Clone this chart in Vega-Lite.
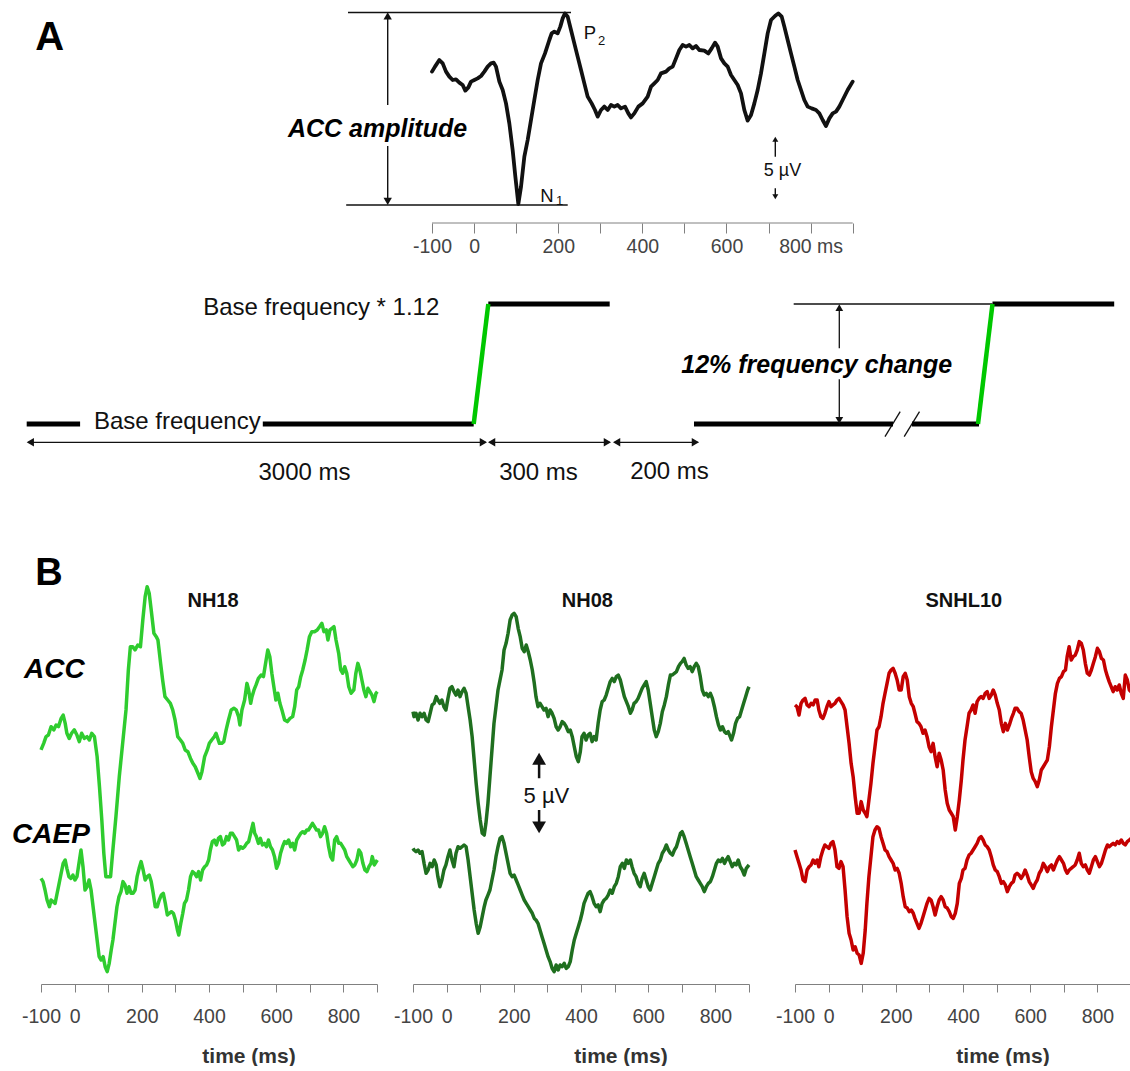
{
"$schema": "https://vega.github.io/schema/vega-lite/v6.json",
"background": "white",
"padding": 0,
"config": {"view": {"stroke": null}, "font": "Liberation Sans"},
"datasets": {
"waveA": [{"t":-100,"v":2.27},{"t":-92.9,"v":2.67},{"t":-82.6,"v":3.2},{"t":-74.6,"v":2.93},{"t":-66.7,"v":2.27},{"t":-58.8,"v":1.87},{"t":-50.9,"v":1.6},{"t":-43,"v":1.65},{"t":-35,"v":1.39},{"t":-27.1,"v":1.2},{"t":-20.8,"v":0.75},{"t":-13.6,"v":1.01},{"t":-7.3,"v":1.47},{"t":0.6,"v":1.6},{"t":8.5,"v":1.73},{"t":16.5,"v":1.92},{"t":24.4,"v":2.27},{"t":32.3,"v":2.67},{"t":40.2,"v":2.93},{"t":46.6,"v":2.99},{"t":52.1,"v":2.67},{"t":60.1,"v":1.47},{"t":68,"v":0.8},{"t":75.9,"v":-0.27},{"t":83.8,"v":-1.87},{"t":91.7,"v":-4},{"t":98.1,"v":-6.13},{"t":105.2,"v":-8.32},{"t":111.6,"v":-6.93},{"t":119.5,"v":-4.53},{"t":127.4,"v":-3.2},{"t":135.3,"v":-1.6},{"t":143.2,"v":0},{"t":151.2,"v":1.6},{"t":159.1,"v":2.93},{"t":168.6,"v":3.73},{"t":178.9,"v":4.8},{"t":184.4,"v":5.33},{"t":190.8,"v":5.47},{"t":198.7,"v":5.33},{"t":205,"v":5.87},{"t":210.6,"v":6.53},{"t":216.1,"v":6.93},{"t":222.5,"v":6.67},{"t":230.4,"v":5.6},{"t":238.3,"v":4.53},{"t":246.2,"v":3.47},{"t":254.2,"v":2.4},{"t":262.1,"v":1.33},{"t":270,"v":0.27},{"t":279.5,"v":-0.27},{"t":287.4,"v":-0.8},{"t":293.8,"v":-1.33},{"t":301.7,"v":-0.8},{"t":309.6,"v":-0.53},{"t":317.6,"v":-0.8},{"t":325.5,"v":-0.4},{"t":333.4,"v":-0.53},{"t":341.3,"v":-0.4},{"t":349.2,"v":-0.67},{"t":358.8,"v":-0.53},{"t":366.7,"v":-1.07},{"t":373,"v":-1.39},{"t":380.9,"v":-1.07},{"t":390.5,"v":-0.53},{"t":400.8,"v":-0.27},{"t":412.6,"v":0.27},{"t":420.6,"v":1.07},{"t":428.5,"v":1.33},{"t":436.4,"v":1.6},{"t":444.3,"v":2.13},{"t":456.2,"v":2.27},{"t":464.1,"v":2.53},{"t":472.1,"v":2.67},{"t":480,"v":3.33},{"t":487.9,"v":4},{"t":495.8,"v":4.4},{"t":503.8,"v":4.27},{"t":511.7,"v":4.4},{"t":519.6,"v":4.13},{"t":527.5,"v":4.32},{"t":535.4,"v":4},{"t":547.3,"v":3.95},{"t":556.8,"v":3.73},{"t":564.8,"v":4.13},{"t":572.7,"v":4.59},{"t":579,"v":4.27},{"t":587,"v":3.33},{"t":594.9,"v":2.93},{"t":602.8,"v":2.67},{"t":610.7,"v":2},{"t":618.6,"v":1.6},{"t":626.6,"v":1.2},{"t":634.5,"v":0.53},{"t":642.4,"v":-0.8},{"t":650.3,"v":-1.65},{"t":658.3,"v":-1.2},{"t":666.2,"v":-0.27},{"t":674.1,"v":0.8},{"t":682,"v":2.13},{"t":690,"v":3.73},{"t":697.9,"v":5.33},{"t":705.8,"v":6.4},{"t":715.3,"v":6.72},{"t":723.2,"v":6.93},{"t":731.2,"v":6.67},{"t":737.5,"v":5.87},{"t":745.4,"v":4.8},{"t":753.3,"v":3.73},{"t":761.3,"v":2.67},{"t":769.2,"v":1.6},{"t":777.1,"v":0.8},{"t":785,"v":0},{"t":793,"v":-0.53},{"t":802.5,"v":-0.67},{"t":812.8,"v":-0.8},{"t":820.7,"v":-1.07},{"t":828.6,"v":-1.6},{"t":836.5,"v":-2.08},{"t":844.5,"v":-1.47},{"t":852.4,"v":-1.07},{"t":860.3,"v":-0.93},{"t":868.2,"v":-0.53},{"t":876.1,"v":0},{"t":888,"v":0.8},{"t":899.9,"v":1.47}],
"nh18a": [{"t":-100,"v":12.63},{"t":-92,"v":13.04},{"t":-85,"v":13.46},{"t":-78,"v":13.56},{"t":-70,"v":14.08},{"t":-62,"v":13.88},{"t":-55,"v":14.19},{"t":-48,"v":14.08},{"t":-40,"v":14.6},{"t":-34,"v":14.81},{"t":-28,"v":14.29},{"t":-23,"v":13.67},{"t":-16,"v":13.35},{"t":-9,"v":13.67},{"t":-1,"v":13.88},{"t":7,"v":13.56},{"t":14,"v":13.15},{"t":21,"v":13.67},{"t":29,"v":13.35},{"t":37,"v":13.46},{"t":44,"v":13.25},{"t":51,"v":13.67},{"t":59,"v":13.46},{"t":67,"v":12.21},{"t":74,"v":10.33},{"t":81,"v":8.25},{"t":87,"v":6.17},{"t":93,"v":4.71},{"t":101,"v":4.71},{"t":107,"v":4.71},{"t":113,"v":6.17},{"t":123,"v":8.46},{"t":133,"v":10.96},{"t":143,"v":13.04},{"t":153,"v":15.13},{"t":160,"v":17.63},{"t":166,"v":19.08},{"t":173,"v":19.08},{"t":180,"v":18.88},{"t":188,"v":19.19},{"t":196,"v":19.08},{"t":203,"v":20.75},{"t":210,"v":22.21},{"t":216,"v":22.83},{"t":222,"v":22.42},{"t":228,"v":21.38},{"t":236,"v":19.92},{"t":243,"v":19.71},{"t":248,"v":19.5},{"t":256,"v":18.04},{"t":262,"v":17},{"t":269,"v":15.96},{"t":277,"v":15.75},{"t":285,"v":15.54},{"t":292,"v":15.13},{"t":299,"v":14.5},{"t":307,"v":13.46},{"t":315,"v":13.25},{"t":322,"v":13.04},{"t":329,"v":12.63},{"t":337,"v":12.52},{"t":345,"v":12.1},{"t":352,"v":11.79},{"t":359,"v":11.58},{"t":367,"v":11.17},{"t":373,"v":10.85},{"t":379,"v":11.27},{"t":387,"v":12.21},{"t":395,"v":12.63},{"t":401,"v":13.04},{"t":408,"v":13.25},{"t":416,"v":13.46},{"t":421,"v":13.67},{"t":426,"v":13.35},{"t":431,"v":13.04},{"t":438,"v":13.04},{"t":444,"v":13.15},{"t":451,"v":13.88},{"t":458,"v":14.5},{"t":466,"v":15.13},{"t":474,"v":15.23},{"t":481,"v":15.13},{"t":488,"v":14.71},{"t":492,"v":14.19},{"t":498,"v":15.13},{"t":506,"v":15.75},{"t":513,"v":16.79},{"t":518,"v":16.38},{"t":524,"v":15.54},{"t":528,"v":15.96},{"t":534,"v":16.38},{"t":540,"v":16.69},{"t":547,"v":17.1},{"t":555,"v":17.31},{"t":562,"v":17.21},{"t":570,"v":18.25},{"t":575,"v":18.88},{"t":581,"v":18.46},{"t":587,"v":17.42},{"t":593,"v":16.58},{"t":599,"v":15.75},{"t":605,"v":16.17},{"t":611,"v":15.54},{"t":617,"v":15.13},{"t":625,"v":14.5},{"t":633,"v":14.4},{"t":641,"v":14.6},{"t":649,"v":14.71},{"t":655,"v":15.33},{"t":661,"v":16.38},{"t":667,"v":16.58},{"t":673,"v":17.21},{"t":679,"v":17.63},{"t":686,"v":18.25},{"t":692,"v":18.88},{"t":699,"v":19.71},{"t":706,"v":20.02},{"t":714,"v":20.02},{"t":722,"v":20.13},{"t":729,"v":20.33},{"t":736,"v":20.54},{"t":742,"v":20.02},{"t":749,"v":20.13},{"t":754,"v":19.5},{"t":760,"v":20.13},{"t":766,"v":20.23},{"t":772,"v":20.33},{"t":778,"v":19.5},{"t":786,"v":18.67},{"t":792,"v":17.63},{"t":798,"v":17.42},{"t":804,"v":17.83},{"t":810,"v":17.42},{"t":816,"v":16.58},{"t":823,"v":16.17},{"t":831,"v":16.38},{"t":837,"v":17.42},{"t":843,"v":18.04},{"t":849,"v":17.63},{"t":855,"v":17},{"t":861,"v":16.38},{"t":867,"v":15.96},{"t":873,"v":16.48},{"t":879,"v":16.27},{"t":885,"v":16.06},{"t":891,"v":15.65},{"t":897,"v":16.17},{"t":901,"v":16.27}],
"nh18c": [{"t":-100,"v":4.6},{"t":-94,"v":4.4},{"t":-88,"v":3.875},{"t":-82,"v":3.25},{"t":-75,"v":2.83},{"t":-70,"v":3.25},{"t":-64,"v":3.15},{"t":-58,"v":3.04},{"t":-52,"v":3.67},{"t":-46,"v":4.29},{"t":-40,"v":4.92},{"t":-34,"v":5.54},{"t":-28,"v":5.75},{"t":-23,"v":5.23},{"t":-17,"v":4.71},{"t":-11,"v":4.6},{"t":-5,"v":4.81},{"t":1,"v":4.5},{"t":7,"v":4.71},{"t":13,"v":5.54},{"t":19,"v":6.375},{"t":25,"v":5.33},{"t":31,"v":3.875},{"t":37,"v":4.08},{"t":43,"v":4.5},{"t":49,"v":3.875},{"t":55,"v":2.83},{"t":61,"v":1.79},{"t":67,"v":0.75},{"t":73,"v":-0.29},{"t":79,"v":-0.5},{"t":85,"v":-0.29},{"t":91,"v":-0.92},{"t":97,"v":-1.23},{"t":103,"v":-0.71},{"t":109,"v":0.125},{"t":114,"v":0.75},{"t":120,"v":1.79},{"t":126,"v":2.83},{"t":132,"v":3.46},{"t":138,"v":3.77},{"t":144,"v":4.4},{"t":150,"v":4.19},{"t":156,"v":3.67},{"t":162,"v":4.08},{"t":168,"v":3.67},{"t":174,"v":3.67},{"t":180,"v":3.875},{"t":186,"v":4.71},{"t":192,"v":5.23},{"t":198,"v":5.65},{"t":204,"v":5.125},{"t":210,"v":4.5},{"t":216,"v":4.71},{"t":222,"v":4.81},{"t":228,"v":4.4},{"t":234,"v":3.67},{"t":240,"v":2.83},{"t":246,"v":2.83},{"t":252,"v":3.25},{"t":258,"v":3.56},{"t":264,"v":3.67},{"t":270,"v":3.04},{"t":276,"v":2.31},{"t":282,"v":2.42},{"t":288,"v":2.52},{"t":294,"v":2.42},{"t":300,"v":2},{"t":306,"v":1.375},{"t":310,"v":1.06},{"t":316,"v":1.79},{"t":322,"v":2.42},{"t":327,"v":3.04},{"t":333,"v":3.25},{"t":339,"v":3.875},{"t":345,"v":4.71},{"t":351,"v":5.02},{"t":357,"v":4.92},{"t":363,"v":4.71},{"t":369,"v":5.02},{"t":375,"v":4.5},{"t":381,"v":5.125},{"t":387,"v":5.33},{"t":393,"v":5.44},{"t":399,"v":5.75},{"t":404,"v":6.375},{"t":410,"v":6.9},{"t":416,"v":7},{"t":422,"v":6.69},{"t":428,"v":7.1},{"t":434,"v":7.21},{"t":440,"v":6.69},{"t":446,"v":6.79},{"t":452,"v":7.21},{"t":458,"v":7},{"t":464,"v":7.42},{"t":470,"v":7.42},{"t":476,"v":7.21},{"t":482,"v":7},{"t":488,"v":6.375},{"t":494,"v":6.58},{"t":500,"v":6.48},{"t":506,"v":6.58},{"t":512,"v":6.79},{"t":518,"v":6.9},{"t":524,"v":7.42},{"t":531,"v":8.04},{"t":536,"v":7.42},{"t":541,"v":7.21},{"t":547,"v":6.79},{"t":553,"v":7.1},{"t":559,"v":6.69},{"t":565,"v":6.79},{"t":571,"v":6.58},{"t":577,"v":7},{"t":583,"v":6.58},{"t":589,"v":6.375},{"t":595,"v":5.96},{"t":601,"v":5.23},{"t":607,"v":5.54},{"t":613,"v":6.17},{"t":619,"v":6.58},{"t":625,"v":6.9},{"t":631,"v":6.79},{"t":637,"v":7},{"t":643,"v":6.58},{"t":649,"v":6.79},{"t":655,"v":6.375},{"t":661,"v":7},{"t":667,"v":7.21},{"t":673,"v":7.42},{"t":679,"v":7.52},{"t":685,"v":7.42},{"t":691,"v":7.625},{"t":696,"v":7.625},{"t":702,"v":7.83},{"t":708,"v":8.04},{"t":714,"v":7.83},{"t":720,"v":7.625},{"t":726,"v":7.625},{"t":732,"v":7.21},{"t":738,"v":7.42},{"t":744,"v":7.83},{"t":750,"v":7.42},{"t":756,"v":6.58},{"t":762,"v":5.96},{"t":768,"v":5.75},{"t":774,"v":7},{"t":780,"v":7.21},{"t":786,"v":6.79},{"t":792,"v":6.79},{"t":798,"v":6.58},{"t":804,"v":6.375},{"t":810,"v":5.96},{"t":816,"v":5.75},{"t":822,"v":5.54},{"t":828,"v":5.33},{"t":834,"v":5.44},{"t":840,"v":5.75},{"t":846,"v":6.375},{"t":852,"v":6.17},{"t":858,"v":5.54},{"t":864,"v":5.125},{"t":870,"v":5.02},{"t":876,"v":5.33},{"t":882,"v":5.54},{"t":886,"v":5.96},{"t":892,"v":5.44},{"t":898,"v":5.65},{"t":901,"v":5.75}],
"nh08a": [{"t":-100,"v":15.02},{"t":-97,"v":14.71},{"t":-91,"v":14.92},{"t":-85,"v":14.5},{"t":-79,"v":14.92},{"t":-73,"v":14.71},{"t":-67,"v":14.92},{"t":-61,"v":14.5},{"t":-55,"v":14.4},{"t":-49,"v":14.92},{"t":-43,"v":15.44},{"t":-37,"v":15.54},{"t":-31,"v":15.96},{"t":-26,"v":15.75},{"t":-20,"v":15.54},{"t":-14,"v":15.75},{"t":-8,"v":15.33},{"t":-2,"v":15.125},{"t":4,"v":15.85},{"t":10,"v":16.48},{"t":16,"v":16.58},{"t":22,"v":16.27},{"t":28,"v":16.06},{"t":34,"v":16.375},{"t":40,"v":15.96},{"t":46,"v":16.27},{"t":52,"v":16.48},{"t":58,"v":16.17},{"t":64,"v":15.33},{"t":70,"v":14.5},{"t":76,"v":13.46},{"t":82,"v":12},{"t":88,"v":10.54},{"t":94,"v":9.29},{"t":100,"v":8.25},{"t":106,"v":7.42},{"t":112,"v":7.31},{"t":117,"v":8.04},{"t":123,"v":9.29},{"t":129,"v":10.96},{"t":135,"v":12.625},{"t":141,"v":14.29},{"t":147,"v":15.33},{"t":153,"v":16.375},{"t":159,"v":17},{"t":165,"v":17.625},{"t":171,"v":18.875},{"t":177,"v":19.29},{"t":183,"v":19.92},{"t":189,"v":20.75},{"t":195,"v":21.06},{"t":201,"v":21.17},{"t":207,"v":20.96},{"t":213,"v":20.23},{"t":219,"v":19.71},{"t":225,"v":18.98},{"t":231,"v":18.77},{"t":237,"v":19.19},{"t":243,"v":18.77},{"t":249,"v":18.25},{"t":255,"v":17.625},{"t":261,"v":16.79},{"t":266,"v":15.96},{"t":272,"v":15.33},{"t":278,"v":15.54},{"t":284,"v":15.33},{"t":290,"v":15.125},{"t":296,"v":15.23},{"t":302,"v":14.71},{"t":308,"v":15.125},{"t":314,"v":14.92},{"t":320,"v":14.6},{"t":326,"v":14.08},{"t":332,"v":13.875},{"t":338,"v":14.08},{"t":344,"v":14.4},{"t":350,"v":14.29},{"t":356,"v":14.08},{"t":362,"v":13.77},{"t":368,"v":13.875},{"t":374,"v":13.46},{"t":380,"v":12.83},{"t":386,"v":12.21},{"t":392,"v":11.9},{"t":398,"v":12.52},{"t":403,"v":13.46},{"t":409,"v":13.67},{"t":415,"v":13.25},{"t":421,"v":13.56},{"t":427,"v":13.67},{"t":433,"v":13.15},{"t":439,"v":13.46},{"t":445,"v":13.25},{"t":451,"v":14.29},{"t":457,"v":15.125},{"t":463,"v":15.65},{"t":469,"v":15.75},{"t":475,"v":16.06},{"t":481,"v":16.48},{"t":487,"v":16.9},{"t":493,"v":17.1},{"t":499,"v":16.9},{"t":505,"v":17.21},{"t":511,"v":17.31},{"t":517,"v":17},{"t":523,"v":16.48},{"t":529,"v":15.96},{"t":535,"v":15.65},{"t":541,"v":15.33},{"t":547,"v":14.92},{"t":552,"v":15.125},{"t":558,"v":15.54},{"t":564,"v":15.65},{"t":570,"v":15.85},{"t":576,"v":16.17},{"t":582,"v":16.48},{"t":588,"v":16.69},{"t":594,"v":16.9},{"t":600,"v":16.375},{"t":606,"v":15.54},{"t":612,"v":14.71},{"t":618,"v":13.875},{"t":624,"v":13.46},{"t":630,"v":13.77},{"t":636,"v":14.29},{"t":642,"v":15.02},{"t":648,"v":15.44},{"t":654,"v":15.96},{"t":660,"v":16.69},{"t":666,"v":17.31},{"t":672,"v":17.31},{"t":678,"v":17.42},{"t":684,"v":17.52},{"t":690,"v":17.83},{"t":696,"v":18.04},{"t":701,"v":18.15},{"t":707,"v":18.35},{"t":713,"v":17.94},{"t":719,"v":17.73},{"t":725,"v":17.83},{"t":731,"v":17.52},{"t":737,"v":17.83},{"t":743,"v":18.04},{"t":749,"v":17.83},{"t":755,"v":17.21},{"t":761,"v":16.375},{"t":767,"v":16.06},{"t":773,"v":16.17},{"t":779,"v":15.96},{"t":785,"v":16.17},{"t":791,"v":15.85},{"t":797,"v":15.33},{"t":803,"v":14.71},{"t":809,"v":14.19},{"t":815,"v":13.875},{"t":821,"v":14.08},{"t":827,"v":13.77},{"t":832,"v":13.67},{"t":838,"v":13.77},{"t":844,"v":13.46},{"t":848,"v":13.25},{"t":854,"v":13.67},{"t":860,"v":14.29},{"t":866,"v":14.6},{"t":872,"v":14.71},{"t":878,"v":15.125},{"t":884,"v":15.54},{"t":890,"v":15.96},{"t":896,"v":16.375},{"t":900,"v":16.58}],
"nh08c": [{"t":-100,"v":6.48},{"t":-97,"v":6.375},{"t":-91,"v":6.27},{"t":-85,"v":6.375},{"t":-79,"v":6.17},{"t":-73,"v":6.27},{"t":-67,"v":5.54},{"t":-61,"v":4.92},{"t":-55,"v":5.125},{"t":-49,"v":5.54},{"t":-43,"v":5.33},{"t":-37,"v":5.75},{"t":-31,"v":5.44},{"t":-26,"v":4.71},{"t":-20,"v":4.08},{"t":-14,"v":4.5},{"t":-8,"v":5.125},{"t":-2,"v":5.44},{"t":4,"v":5.96},{"t":10,"v":6.375},{"t":16,"v":5.75},{"t":22,"v":5.33},{"t":28,"v":6.17},{"t":34,"v":6.58},{"t":40,"v":6.48},{"t":46,"v":6.58},{"t":52,"v":6.69},{"t":58,"v":6.58},{"t":64,"v":5.75},{"t":70,"v":4.71},{"t":76,"v":3.67},{"t":82,"v":2.625},{"t":88,"v":1.79},{"t":94,"v":1.17},{"t":100,"v":1.58},{"t":106,"v":2.21},{"t":112,"v":2.83},{"t":117,"v":3.25},{"t":123,"v":3.56},{"t":129,"v":3.875},{"t":135,"v":4.5},{"t":141,"v":5.125},{"t":147,"v":5.96},{"t":153,"v":6.58},{"t":159,"v":7.1},{"t":165,"v":7.21},{"t":171,"v":6.79},{"t":177,"v":6.17},{"t":183,"v":5.54},{"t":189,"v":4.92},{"t":195,"v":4.71},{"t":201,"v":4.81},{"t":207,"v":4.5},{"t":213,"v":4.19},{"t":219,"v":3.875},{"t":225,"v":3.56},{"t":231,"v":3.25},{"t":237,"v":3.04},{"t":243,"v":2.83},{"t":249,"v":2.625},{"t":255,"v":2.42},{"t":261,"v":2.1},{"t":266,"v":2},{"t":272,"v":1.79},{"t":278,"v":1.375},{"t":284,"v":0.96},{"t":290,"v":0.54},{"t":296,"v":0.125},{"t":302,"v":-0.29},{"t":308,"v":-0.6},{"t":314,"v":-1.02},{"t":320,"v":-1.23},{"t":326,"v":-0.81},{"t":332,"v":-1.125},{"t":338,"v":-0.81},{"t":344,"v":-0.92},{"t":350,"v":-0.71},{"t":356,"v":-1.02},{"t":362,"v":-0.92},{"t":368,"v":-0.6},{"t":374,"v":0.125},{"t":380,"v":0.75},{"t":386,"v":1.17},{"t":392,"v":1.58},{"t":398,"v":2},{"t":403,"v":2.42},{"t":409,"v":3.04},{"t":415,"v":3.35},{"t":421,"v":3.67},{"t":427,"v":3.77},{"t":433,"v":3.46},{"t":439,"v":3.04},{"t":445,"v":2.83},{"t":451,"v":2.94},{"t":457,"v":2.52},{"t":463,"v":3.04},{"t":469,"v":3.25},{"t":475,"v":3.35},{"t":481,"v":3.56},{"t":487,"v":3.875},{"t":493,"v":3.67},{"t":499,"v":4.08},{"t":505,"v":4.29},{"t":511,"v":4.71},{"t":517,"v":5.33},{"t":523,"v":5.54},{"t":529,"v":5.23},{"t":535,"v":5.75},{"t":541,"v":5.54},{"t":547,"v":5.75},{"t":552,"v":5.33},{"t":558,"v":4.92},{"t":564,"v":4.71},{"t":570,"v":4.29},{"t":576,"v":4.08},{"t":582,"v":4.6},{"t":588,"v":4.92},{"t":594,"v":4.5},{"t":600,"v":4.08},{"t":606,"v":3.875},{"t":612,"v":4.29},{"t":618,"v":4.71},{"t":624,"v":5.125},{"t":630,"v":5.54},{"t":636,"v":5.75},{"t":642,"v":6.17},{"t":648,"v":6.375},{"t":654,"v":6.69},{"t":660,"v":6.375},{"t":666,"v":6.17},{"t":672,"v":6.06},{"t":678,"v":6.375},{"t":684,"v":6.58},{"t":690,"v":7},{"t":696,"v":7.42},{"t":701,"v":7.52},{"t":707,"v":7.21},{"t":713,"v":6.79},{"t":719,"v":6.375},{"t":725,"v":5.96},{"t":731,"v":5.54},{"t":737,"v":5.125},{"t":743,"v":4.71},{"t":749,"v":4.5},{"t":755,"v":4.29},{"t":761,"v":4.08},{"t":767,"v":3.77},{"t":773,"v":4.08},{"t":779,"v":4.29},{"t":785,"v":4.4},{"t":791,"v":4.71},{"t":797,"v":5.125},{"t":803,"v":5.54},{"t":809,"v":5.75},{"t":815,"v":5.65},{"t":821,"v":5.85},{"t":827,"v":5.54},{"t":832,"v":5.75},{"t":838,"v":5.96},{"t":844,"v":5.65},{"t":850,"v":5.33},{"t":856,"v":5.54},{"t":862,"v":5.44},{"t":868,"v":5.75},{"t":874,"v":5.33},{"t":880,"v":5.125},{"t":886,"v":4.81},{"t":892,"v":5.23},{"t":900,"v":5.44}],
"sn10a": [{"t":-100,"v":15.44},{"t":-94,"v":15.33},{"t":-88,"v":14.81},{"t":-82,"v":15.54},{"t":-76,"v":15.75},{"t":-70,"v":15.85},{"t":-64,"v":15.44},{"t":-58,"v":15.33},{"t":-52,"v":15.54},{"t":-46,"v":15.44},{"t":-40,"v":15.75},{"t":-34,"v":15.75},{"t":-29,"v":15.125},{"t":-23,"v":14.71},{"t":-17,"v":14.6},{"t":-11,"v":14.92},{"t":-5,"v":15.33},{"t":1,"v":15.65},{"t":7,"v":15.33},{"t":13,"v":15.44},{"t":19,"v":15.54},{"t":25,"v":15.75},{"t":31,"v":15.85},{"t":37,"v":15.65},{"t":43,"v":15.44},{"t":49,"v":15.125},{"t":55,"v":14.08},{"t":61,"v":13.04},{"t":67,"v":11.79},{"t":73,"v":10.96},{"t":79,"v":9.71},{"t":85,"v":8.67},{"t":91,"v":8.67},{"t":97,"v":9.4},{"t":103,"v":8.875},{"t":109,"v":8.67},{"t":114,"v":8.46},{"t":120,"v":9.5},{"t":126,"v":10.54},{"t":132,"v":11.79},{"t":138,"v":12.83},{"t":144,"v":13.875},{"t":150,"v":14.08},{"t":156,"v":14.71},{"t":162,"v":15.54},{"t":168,"v":16.17},{"t":174,"v":16.79},{"t":180,"v":17.42},{"t":186,"v":17.625},{"t":192,"v":17.73},{"t":198,"v":17.42},{"t":204,"v":17},{"t":210,"v":16.375},{"t":216,"v":16.375},{"t":222,"v":17.21},{"t":228,"v":17.42},{"t":234,"v":17},{"t":240,"v":15.96},{"t":246,"v":15.54},{"t":252,"v":15.33},{"t":257,"v":14.92},{"t":263,"v":14.4},{"t":269,"v":14.29},{"t":275,"v":14.08},{"t":281,"v":13.67},{"t":287,"v":13.875},{"t":293,"v":13.46},{"t":299,"v":12.83},{"t":305,"v":12.52},{"t":311,"v":13.04},{"t":317,"v":12.21},{"t":323,"v":11.58},{"t":329,"v":12.42},{"t":335,"v":12},{"t":341,"v":11.375},{"t":347,"v":10.125},{"t":353,"v":9.29},{"t":359,"v":8.875},{"t":365,"v":8.67},{"t":371,"v":8.46},{"t":377,"v":7.625},{"t":383,"v":8.46},{"t":389,"v":9.5},{"t":395,"v":10.75},{"t":400,"v":12},{"t":406,"v":13.25},{"t":412,"v":14.08},{"t":418,"v":14.92},{"t":424,"v":15.125},{"t":430,"v":15.44},{"t":436,"v":14.92},{"t":442,"v":15.65},{"t":448,"v":15.85},{"t":454,"v":15.96},{"t":460,"v":15.85},{"t":466,"v":16.17},{"t":472,"v":16.27},{"t":478,"v":15.85},{"t":484,"v":16.06},{"t":490,"v":16.375},{"t":496,"v":16.06},{"t":502,"v":15.54},{"t":508,"v":15.125},{"t":514,"v":14.29},{"t":520,"v":13.77},{"t":526,"v":14.29},{"t":532,"v":13.875},{"t":538,"v":14.19},{"t":544,"v":14.6},{"t":550,"v":14.92},{"t":555,"v":15.23},{"t":561,"v":15.23},{"t":567,"v":15.02},{"t":573,"v":14.92},{"t":579,"v":14.5},{"t":585,"v":13.875},{"t":591,"v":13.25},{"t":597,"v":12.21},{"t":603,"v":11.27},{"t":609,"v":10.85},{"t":615,"v":10.65},{"t":621,"v":10.33},{"t":627,"v":10.75},{"t":633,"v":11.375},{"t":639,"v":11.58},{"t":645,"v":11.79},{"t":651,"v":12},{"t":657,"v":12.83},{"t":663,"v":14.08},{"t":669,"v":15.125},{"t":675,"v":16.17},{"t":681,"v":16.79},{"t":687,"v":17.1},{"t":693,"v":17.21},{"t":699,"v":17.52},{"t":705,"v":17.625},{"t":710,"v":18.46},{"t":716,"v":19.08},{"t":722,"v":18.25},{"t":728,"v":18.46},{"t":734,"v":18.56},{"t":740,"v":18.875},{"t":746,"v":19.4},{"t":752,"v":19.29},{"t":758,"v":18.875},{"t":764,"v":18.04},{"t":770,"v":17.42},{"t":776,"v":17.31},{"t":782,"v":17.625},{"t":788,"v":18.04},{"t":794,"v":18.46},{"t":800,"v":18.98},{"t":806,"v":18.77},{"t":812,"v":18.35},{"t":818,"v":18.25},{"t":824,"v":17.625},{"t":830,"v":17.21},{"t":835,"v":16.9},{"t":841,"v":16.58},{"t":847,"v":16.27},{"t":853,"v":16.58},{"t":859,"v":16.375},{"t":865,"v":16.69},{"t":871,"v":16.17},{"t":877,"v":15.85},{"t":883,"v":17.31},{"t":889,"v":17},{"t":895,"v":16.375},{"t":900,"v":16.27}],
"sn10c": [{"t":-100,"v":6.375},{"t":-94,"v":5.96},{"t":-88,"v":5.54},{"t":-82,"v":5.125},{"t":-76,"v":4.5},{"t":-70,"v":4.4},{"t":-64,"v":5.125},{"t":-58,"v":5.33},{"t":-52,"v":5.44},{"t":-46,"v":5.75},{"t":-40,"v":5.54},{"t":-34,"v":5.75},{"t":-29,"v":5.33},{"t":-23,"v":5.96},{"t":-17,"v":6.375},{"t":-11,"v":6.69},{"t":-5,"v":6.58},{"t":1,"v":6.48},{"t":7,"v":6.79},{"t":13,"v":6.9},{"t":19,"v":6.375},{"t":25,"v":5.33},{"t":31,"v":5.23},{"t":37,"v":5.65},{"t":43,"v":5.33},{"t":49,"v":3.875},{"t":55,"v":2.21},{"t":61,"v":1.17},{"t":67,"v":0.75},{"t":73,"v":0.125},{"t":79,"v":0.33},{"t":85,"v":-0.08},{"t":91,"v":-0.19},{"t":97,"v":-0.71},{"t":103,"v":-0.08},{"t":109,"v":1.375},{"t":114,"v":3.04},{"t":120,"v":4.71},{"t":126,"v":5.96},{"t":132,"v":7.21},{"t":138,"v":7.625},{"t":144,"v":7.83},{"t":150,"v":7.73},{"t":156,"v":7.21},{"t":162,"v":6.79},{"t":168,"v":6.375},{"t":174,"v":6.27},{"t":180,"v":5.96},{"t":186,"v":5.75},{"t":192,"v":5.54},{"t":198,"v":5.125},{"t":204,"v":5.23},{"t":210,"v":4.92},{"t":216,"v":4.29},{"t":222,"v":3.46},{"t":228,"v":2.83},{"t":234,"v":2.75},{"t":240,"v":2.52},{"t":246,"v":2.625},{"t":252,"v":2.42},{"t":257,"v":2.1},{"t":263,"v":1.79},{"t":269,"v":1.48},{"t":275,"v":1.79},{"t":281,"v":2.21},{"t":287,"v":2.625},{"t":293,"v":3.04},{"t":299,"v":3.35},{"t":305,"v":3.25},{"t":311,"v":2.83},{"t":317,"v":2.31},{"t":323,"v":2.83},{"t":329,"v":3.25},{"t":335,"v":3.46},{"t":341,"v":3.25},{"t":347,"v":2.83},{"t":353,"v":2.75},{"t":359,"v":2.52},{"t":365,"v":2.21},{"t":371,"v":2.1},{"t":377,"v":2.42},{"t":383,"v":3.04},{"t":389,"v":4.29},{"t":395,"v":4.6},{"t":400,"v":5.125},{"t":406,"v":5.23},{"t":412,"v":5.75},{"t":418,"v":6.06},{"t":424,"v":6.17},{"t":430,"v":6.375},{"t":436,"v":6.58},{"t":442,"v":6.79},{"t":448,"v":7.1},{"t":454,"v":7.21},{"t":460,"v":7},{"t":466,"v":6.69},{"t":472,"v":6.58},{"t":478,"v":6.375},{"t":484,"v":5.96},{"t":490,"v":5.44},{"t":496,"v":5.125},{"t":502,"v":5.02},{"t":508,"v":4.71},{"t":514,"v":4.29},{"t":520,"v":4.4},{"t":526,"v":4.19},{"t":532,"v":3.77},{"t":538,"v":4.08},{"t":544,"v":4.29},{"t":550,"v":4.4},{"t":555,"v":4.81},{"t":561,"v":4.92},{"t":567,"v":4.81},{"t":573,"v":4.6},{"t":579,"v":4.81},{"t":585,"v":5.125},{"t":591,"v":4.81},{"t":597,"v":4.4},{"t":603,"v":4.19},{"t":609,"v":3.98},{"t":615,"v":4.29},{"t":621,"v":4.5},{"t":627,"v":4.92},{"t":633,"v":5.125},{"t":639,"v":5.54},{"t":645,"v":5.33},{"t":651,"v":5.02},{"t":657,"v":5.33},{"t":663,"v":5.44},{"t":669,"v":5.125},{"t":675,"v":5.44},{"t":681,"v":5.75},{"t":687,"v":5.96},{"t":693,"v":5.75},{"t":699,"v":5.54},{"t":705,"v":5.125},{"t":710,"v":4.92},{"t":716,"v":5.125},{"t":722,"v":5.23},{"t":728,"v":5.33},{"t":734,"v":5.44},{"t":740,"v":5.75},{"t":746,"v":6.17},{"t":752,"v":5.54},{"t":758,"v":5.33},{"t":764,"v":5.44},{"t":770,"v":5.125},{"t":776,"v":4.92},{"t":782,"v":5.33},{"t":788,"v":5.75},{"t":794,"v":5.96},{"t":800,"v":5.65},{"t":806,"v":5.33},{"t":812,"v":5.54},{"t":818,"v":5.96},{"t":824,"v":6.375},{"t":830,"v":6.69},{"t":835,"v":6.58},{"t":841,"v":6.69},{"t":847,"v":6.79},{"t":853,"v":6.69},{"t":859,"v":6.9},{"t":865,"v":6.79},{"t":871,"v":7},{"t":877,"v":6.79},{"t":883,"v":6.69},{"t":889,"v":6.9},{"t":895,"v":7},{"t":900,"v":7.1}]
},
"spacing": 0,
"bounds": "flush",
"vconcat": [
{
"width": 1130, "height": 223,
"encoding": {
 "x": {"field": "t", "type": "quantitative", "scale": {"domain": [-1124.5, 1561.5], "nice": false, "zero": false},
  "axis": {"values": [-100,0,100,200,300,400,500,600,700,800,900], "domain": false, "grid": false, "tickColor": "#808080", "tickSize": 10, "labelFontSize": 19.5, "labelColor": "#444", "labelPadding": 4.5, "labelFlush": false, "labelOverlap": false, "title": null,
   "labelExpr": "datum.value == -100 ? '-100' : (datum.value == 800 ? '800 ms' : (datum.value % 200 == 0 ? format(datum.value, 'd') : ''))",
   "encode": {"labels": {"update": {"dx": {"signal": "datum.value == -100 ? -13 : (datum.value == 0 ? 4 : (datum.value == 800 ? 10 : 0))"}}}}}},
 "y": {"field": "v", "type": "quantitative", "scale": {"domain": [-9.84, 8], "nice": false, "zero": false}, "axis": null}
},
"layer": [
 {"data": {"values": [{"t": -100, "t2": 900, "v": -9.84, "v2": -9.84}]}, "mark": {"type": "rule", "color": "#808080", "strokeWidth": 1}, "encoding": {"x2": {"field": "t2"}, "y2": {"field": "v2"}}},
 {"data": {"values": [
   {"t": -299.7, "t2": 230.4, "v": 7.0, "v2": 7.0},
   {"t": -304, "t2": 222.6, "v": -8.4, "v2": -8.4},
   {"t": -205.3, "t2": -205.3, "v": 6.7, "v2": -0.4},
   {"t": -205.3, "t2": -205.3, "v": -3.68, "v2": -8.1},
   {"t": 716, "t2": 716, "v": -3.2, "v2": -4.54},
   {"t": 716, "t2": 716, "v": -7.06, "v2": -7.7}
  ]}, "mark": {"type": "rule", "color": "#111", "strokeWidth": 1.4}, "encoding": {"x2": {"field": "t2"}, "y2": {"field": "v2"}}},
 {"data": {"name": "waveA"}, "mark": {"type": "line", "color": "#111", "strokeWidth": 3.8, "strokeJoin": "round", "strokeCap": "round"}, "encoding": {}},
 {"data": {"values": [{"t": -205.3, "v": 6.73}]}, "mark": {"type": "point", "shape": "triangle-up", "filled": true, "color": "#111", "opacity": 1, "size": 70}, "encoding": {}},
 {"data": {"values": [{"t": -205.3, "v": -8.11}]}, "mark": {"type": "point", "shape": "triangle-down", "filled": true, "color": "#111", "opacity": 1, "size": 70}, "encoding": {}},
 {"data": {"values": [{"t": 716, "v": -3.14}]}, "mark": {"type": "point", "shape": "triangle-up", "filled": true, "color": "#111", "opacity": 1, "size": 36}, "encoding": {}},
 {"data": {"values": [{"t": 716, "v": -7.74}]}, "mark": {"type": "point", "shape": "triangle-down", "filled": true, "color": "#111", "opacity": 1, "size": 36}, "encoding": {}},
 {"data": {"values": [{"t": -1008.7, "v": 4.0, "label": "A"}]}, "mark": {"type": "text", "fontSize": 40, "fontWeight": "bold", "align": "center", "baseline": "alphabetic", "color": "#000"}, "encoding": {"text": {"field": "label"}}},
 {"data": {"values": [{"t": -229.5, "v": -2.98, "label": "ACC amplitude"}]}, "mark": {"type": "text", "fontSize": 25, "fontWeight": "bold", "fontStyle": "italic", "align": "center", "baseline": "alphabetic", "color": "#000"}, "encoding": {"text": {"field": "label"}}},
 {"data": {"values": [{"t": 260.6, "v": 4.86, "label": "P"}, {"t": 157.4, "v": -8.14, "label": "N"}]}, "mark": {"type": "text", "fontSize": 18.5, "align": "left", "baseline": "alphabetic", "color": "#111"}, "encoding": {"text": {"field": "label"}}},
 {"data": {"values": [{"t": 294.6, "v": 4.4, "label": "2"}, {"t": 194.7, "v": -8.4, "label": "1"}]}, "mark": {"type": "text", "fontSize": 13, "align": "left", "baseline": "alphabetic", "color": "#111"}, "encoding": {"text": {"field": "label"}}},
 {"data": {"values": [{"t": 733, "v": -6.08, "label": "5 µV"}]}, "mark": {"type": "text", "fontSize": 18, "align": "center", "baseline": "alphabetic", "color": "#111"}, "encoding": {"text": {"field": "label"}}}
]
},
{
"width": 1130, "height": 345,
"encoding": {
 "x": {"field": "x", "type": "quantitative", "scale": {"domain": [0, 100], "nice": false, "zero": false}, "axis": null},
 "y": {"field": "f", "type": "quantitative", "scale": {"domain": [0.856, 1.201], "nice": false, "zero": false}, "axis": null}
},
"layer": [
 {"data": {"values": [
   {"x": 70.15, "x2": 87.743, "f": 1.12, "f2": 1.12},
   {"x": 74.186, "x2": 74.186, "f": 1.116, "f2": 1.0757},
   {"x": 74.186, "x2": 74.186, "f": 1.0447, "f2": 1.004},
   {"x": 78.23, "x2": 79.575, "f": 0.9873, "f2": 1.0123},
   {"x": 79.929, "x2": 81.283, "f": 0.9873, "f2": 1.0123},
   {"x": 2.4, "x2": 42.9, "f": 0.9817, "f2": 0.9817},
   {"x": 43.2, "x2": 53.9, "f": 0.9817, "f2": 0.9817},
   {"x": 54.3, "x2": 61.7, "f": 0.9817, "f2": 0.9817}
  ]}, "mark": {"type": "rule", "color": "#111", "strokeWidth": 1.3}, "encoding": {"x2": {"field": "x2"}, "y2": {"field": "f2"}}},
 {"data": {"values": [
   {"x": 2.274, "x2": 7.0, "f": 1.0, "f2": 1.0},
   {"x": 23.168, "x2": 41.832, "f": 1.0, "f2": 1.0},
   {"x": 43.124, "x2": 53.867, "f": 1.12, "f2": 1.12},
   {"x": 61.327, "x2": 78.938, "f": 1.0, "f2": 1.0},
   {"x": 80.619, "x2": 86.549, "f": 1.0, "f2": 1.0},
   {"x": 87.743, "x2": 98.513, "f": 1.12, "f2": 1.12}
  ]}, "mark": {"type": "rule", "color": "#000", "strokeWidth": 5}, "encoding": {"x2": {"field": "x2"}, "y2": {"field": "f2"}}},
 {"data": {"values": [
   {"x": 41.832, "x2": 43.124, "f": 1.0, "f2": 1.12},
   {"x": 86.46, "x2": 87.743, "f": 1.0, "f2": 1.12}
  ]}, "mark": {"type": "rule", "color": "#00c800", "strokeWidth": 4.5}, "encoding": {"x2": {"field": "x2"}, "y2": {"field": "f2"}}},
 {"data": {"values": [{"x": 2.593, "f": 0.9817}, {"x": 43.416, "f": 0.9817}, {"x": 54.478, "f": 0.9817}]}, "mark": {"type": "point", "shape": "triangle-left", "filled": true, "color": "#111", "opacity": 1, "size": 70}, "encoding": {}},
 {"data": {"values": [{"x": 42.69, "f": 0.9817}, {"x": 53.664, "f": 0.9817}, {"x": 61.451, "f": 0.9817}]}, "mark": {"type": "point", "shape": "triangle-right", "filled": true, "color": "#111", "opacity": 1, "size": 70}, "encoding": {}},
 {"data": {"values": [{"x": 74.186, "f": 1.1164}]}, "mark": {"type": "point", "shape": "triangle-up", "filled": true, "color": "#111", "opacity": 1, "size": 60}, "encoding": {}},
 {"data": {"values": [{"x": 74.186, "f": 1.0036}]}, "mark": {"type": "point", "shape": "triangle-down", "filled": true, "color": "#111", "opacity": 1, "size": 60}, "encoding": {}},
 {"data": {"values": [{"x": 8.221, "f": 0.995, "label": "Base frequency"}]}, "mark": {"type": "text", "fontSize": 24, "align": "left", "baseline": "alphabetic", "color": "#111"}, "encoding": {"text": {"field": "label"}}},
 {"data": {"values": [{"x": 38.788, "f": 1.109, "label": "Base frequency * 1.12"}]}, "mark": {"type": "text", "fontSize": 24, "align": "right", "baseline": "alphabetic", "color": "#111"}, "encoding": {"text": {"field": "label"}}},
 {"data": {"values": [{"x": 26.858, "f": 0.944, "label": "3000 ms"}, {"x": 47.566, "f": 0.944, "label": "300 ms"}, {"x": 59.159, "f": 0.9447, "label": "200 ms"}]}, "mark": {"type": "text", "fontSize": 24, "align": "center", "baseline": "alphabetic", "color": "#111"}, "encoding": {"text": {"field": "label"}}},
 {"data": {"values": [{"x": 72.186, "f": 1.0513, "label": "12% frequency change"}]}, "mark": {"type": "text", "fontSize": 25, "fontWeight": "bold", "fontStyle": "italic", "align": "center", "baseline": "alphabetic", "color": "#000"}, "encoding": {"text": {"field": "label"}}}
]
},
{
"spacing": 36,
"bounds": "flush",
"hconcat": [
 {"width": 4, "height": 416, "data": {"values": [{"a": 1}]}, "mark": {"type": "point", "opacity": 0}},
 {
 "width": 336, "height": 416,
 "encoding": {
  "x": {"field": "t", "type": "quantitative", "scale": {"domain": [-100, 900], "nice": false, "zero": false},
   "axis": {"values": [-100,0,100,200,300,400,500,600,700,800,900], "grid": false, "domainColor": "#808080", "tickColor": "#808080", "tickSize": 8, "labelFontSize": 19.5, "labelColor": "#444", "labelPadding": 15, "labelFlush": false, "labelOverlap": false,
    "labelExpr": "datum.value == -100 ? '-100' : (datum.value % 200 == 0 ? format(datum.value, 'd') : '')",
    "title": "time (ms)", "titleFontSize": 21, "titleFontWeight": "bold", "titleColor": "#333", "titleX": 207.5, "titleY": 78, "titleBaseline": "alphabetic", "titleAlign": "center",
    "encode": {"labels": {"update": {"dx": {"signal": "datum.value >= 200 ? 6 : (datum.value == -100 ? 1 : 0)"}}}}}},
  "y": {"field": "v", "type": "quantitative", "scale": {"domain": [-2, 24], "nice": false, "zero": false}, "axis": null}
 },
 "layer": [
  {"data": {"name": "nh18a"}, "mark": {"type": "line", "color": "#2fcc2f", "strokeWidth": 3.5, "strokeJoin": "round"}, "encoding": {}},
  {"data": {"name": "nh18c"}, "mark": {"type": "line", "color": "#2fcc2f", "strokeWidth": 3.5, "strokeJoin": "round"}, "encoding": {}},
  {"data": {"values": [{"t": 412, "v": 21.54, "label": "NH18"}]}, "mark": {"type": "text", "fontSize": 20, "fontWeight": "bold", "align": "center", "baseline": "alphabetic", "color": "#111"}, "encoding": {"text": {"field": "label"}}},
  {"data": {"values": [{"t": -76, "v": 22.94, "label": "B"}]}, "mark": {"type": "text", "fontSize": 38, "fontWeight": "bold", "align": "center", "baseline": "alphabetic", "color": "#000"}, "encoding": {"text": {"field": "label"}}},
  {"data": {"values": [{"t": -60.4, "v": 17.125, "label": "ACC"}, {"t": -70.2, "v": 6.81, "label": "CAEP"}]}, "mark": {"type": "text", "fontSize": 28, "fontWeight": "bold", "fontStyle": "italic", "align": "center", "baseline": "alphabetic", "color": "#000"}, "encoding": {"text": {"field": "label"}}}
 ]
 },
 {
 "spacing": 46,
 "bounds": "flush",
 "hconcat": [
  {
  "width": 336, "height": 416,
  "encoding": {
   "x": {"field": "t", "type": "quantitative", "scale": {"domain": [-100, 900], "nice": false, "zero": false},
    "axis": {"values": [-100,0,100,200,300,400,500,600,700,800,900], "grid": false, "domainColor": "#808080", "tickColor": "#808080", "tickSize": 8, "labelFontSize": 19.5, "labelColor": "#444", "labelPadding": 15, "labelFlush": false, "labelOverlap": false,
     "labelExpr": "datum.value == -100 ? '-100' : (datum.value % 200 == 0 ? format(datum.value, 'd') : '')",
     "title": "time (ms)", "titleFontSize": 21, "titleFontWeight": "bold", "titleColor": "#333", "titleX": 207.5, "titleY": 78, "titleBaseline": "alphabetic", "titleAlign": "center",
     "encode": {"labels": {"update": {"dx": {"signal": "datum.value >= 200 ? 6 : (datum.value == -100 ? 1 : 0)"}}}}}},
   "y": {"field": "v", "type": "quantitative", "scale": {"domain": [-2, 24], "nice": false, "zero": false}, "axis": null}
  },
  "layer": [
   {"data": {"name": "nh08a"}, "mark": {"type": "line", "color": "#1f6f1f", "strokeWidth": 3.5, "strokeJoin": "round"}, "encoding": {}},
   {"data": {"name": "nh08c"}, "mark": {"type": "line", "color": "#1f6f1f", "strokeWidth": 3.5, "strokeJoin": "round"}, "encoding": {}},
   {"data": {"values": [{"t": 419, "v": 21.58, "label": "NH08"}]}, "mark": {"type": "text", "fontSize": 20, "fontWeight": "bold", "align": "center", "baseline": "alphabetic", "color": "#111"}, "encoding": {"text": {"field": "label"}}},
   {"data": {"values": [{"t": 275.3, "t2": 275.3, "v": 11.75, "v2": 10.86}, {"t": 275.3, "t2": 275.3, "v": 8.875, "v2": 8.1}]}, "mark": {"type": "rule", "color": "#111", "strokeWidth": 2.5}, "encoding": {"x2": {"field": "t2"}, "y2": {"field": "v2"}}},
   {"data": {"values": [{"t": 275.3, "v": 12.08}]}, "mark": {"type": "point", "shape": "triangle-up", "filled": true, "color": "#111", "opacity": 1, "size": 190}, "encoding": {}},
   {"data": {"values": [{"t": 275.3, "v": 7.79}]}, "mark": {"type": "point", "shape": "triangle-down", "filled": true, "color": "#111", "opacity": 1, "size": 190}, "encoding": {}},
   {"data": {"values": [{"t": 297, "v": 9.33, "label": "5 µV"}]}, "mark": {"type": "text", "fontSize": 22, "align": "center", "baseline": "alphabetic", "color": "#111"}, "encoding": {"text": {"field": "label"}}}
  ]
  },
  {
  "width": 336, "height": 416,
  "encoding": {
   "x": {"field": "t", "type": "quantitative", "scale": {"domain": [-100, 900], "nice": false, "zero": false},
    "axis": {"values": [-100,0,100,200,300,400,500,600,700,800,900], "grid": false, "domainColor": "#808080", "tickColor": "#808080", "tickSize": 8, "labelFontSize": 19.5, "labelColor": "#444", "labelPadding": 15, "labelFlush": false, "labelOverlap": false,
     "labelExpr": "datum.value == -100 ? '-100' : (datum.value % 200 == 0 ? format(datum.value, 'd') : '')",
     "title": "time (ms)", "titleFontSize": 21, "titleFontWeight": "bold", "titleColor": "#333", "titleX": 207.5, "titleY": 78, "titleBaseline": "alphabetic", "titleAlign": "center",
     "encode": {"labels": {"update": {"dx": {"signal": "datum.value >= 200 ? 6 : (datum.value == -100 ? 1 : 0)"}}}}}},
   "y": {"field": "v", "type": "quantitative", "scale": {"domain": [-2, 24], "nice": false, "zero": false}, "axis": null}
  },
  "layer": [
   {"data": {"name": "sn10a"}, "mark": {"type": "line", "color": "#c40000", "strokeWidth": 3.5, "strokeJoin": "round"}, "encoding": {}},
   {"data": {"name": "sn10c"}, "mark": {"type": "line", "color": "#c40000", "strokeWidth": 3.5, "strokeJoin": "round"}, "encoding": {}},
   {"data": {"values": [{"t": 402.5, "v": 21.54, "label": "SNHL10"}]}, "mark": {"type": "text", "fontSize": 20, "fontWeight": "bold", "align": "center", "baseline": "alphabetic", "color": "#111"}, "encoding": {"text": {"field": "label"}}}
  ]
  }
 ]
 }
]
}
]
}
